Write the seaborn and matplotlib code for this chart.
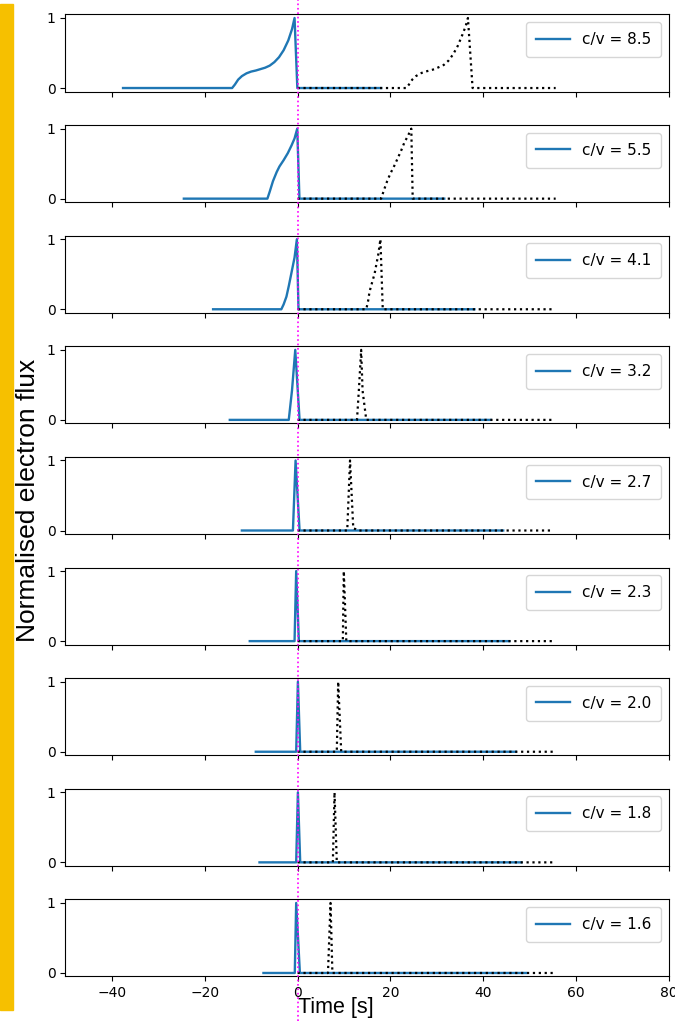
import matplotlib
matplotlib.use("Agg")
import matplotlib.pyplot as plt
import matplotlib.transforms as mtransforms
from matplotlib.lines import Line2D
from matplotlib.patches import Rectangle
import seaborn as sns

# ---- data ----
cv_values = ["8.5", "5.5", "4.1", "3.2", "2.7", "2.3", "2.0", "1.8", "1.6"]

# solid (blue) curves: time [s], normalised flux
blue_t_85 = [-37.6, -14.1, -13.5, -12.8, -12.0, -11.0, -10.0, -9.0, -8.0, -7.0, -6.0,
             -5.0, -4.0, -3.0, -2.0, -1.2, -0.65, -0.05, 18.0]
blue_y_85 = [0, 0, 0.05, 0.12, 0.17, 0.21, 0.235, 0.25, 0.27, 0.29, 0.32,
             0.37, 0.44, 0.54, 0.68, 0.84, 1.0, 0, 0]
blue_t_55 = [-24.5, -6.5, -6.0, -5.3, -4.5, -3.9, -3.0, -2.1, -1.3, -0.65, -0.07, 0.4, 31.6]
blue_y_55 = [0, 0, 0.10, 0.25, 0.38, 0.46, 0.55, 0.65, 0.76, 0.86, 1.0, 0, 0]
blue_t_41 = [-18.2, -3.5, -3.0, -2.4, -1.9, -1.35, -0.65, -0.15, 0.2, 38.1]
blue_y_41 = [0, 0, 0.07, 0.18, 0.33, 0.51, 0.74, 1.0, 0, 0]
blue_t_32 = [-14.6, -1.9, -1.2, -0.5, 0.43, 41.6]
blue_y_32 = [0, 0, 0.42, 1.0, 0, 0]
blue_t_27 = [-12.0, -1.0, -0.43, 0.43, 44.3]
blue_y_27 = [0, 0, 1.0, 0, 0]
blue_t_23 = [-10.3, -0.65, -0.3, 0.28, 45.6]
blue_y_23 = [0, 0, 1.0, 0, 0]
blue_t_20 = [-9.0, -0.3, 0.07, 0.57, 47.0]
blue_y_20 = [0, 0, 1.0, 0, 0]
blue_t_18 = [-8.2, -0.3, 0.07, 0.57, 48.2]
blue_y_18 = [0, 0, 1.0, 0, 0]
blue_t_16 = [-7.35, -0.6, -0.3, 0.5, 49.2]
blue_y_16 = [0, 0, 1.0, 0, 0]

# dotted (black) curves
black_t_85 = [0.0, 23.4, 24.0, 24.7, 25.5, 26.5, 27.5, 28.5, 29.5, 30.5, 31.5,
              32.5, 33.5, 34.5, 35.5, 36.2, 36.7, 37.7, 55.6]
black_y_85 = [0, 0, 0.05, 0.12, 0.17, 0.21, 0.235, 0.25, 0.27, 0.30, 0.33,
              0.39, 0.48, 0.60, 0.76, 0.88, 1.0, 0, 0]
black_t_55 = [0.0, 18.0, 18.6, 19.3, 20.0, 20.7, 21.6, 22.4, 23.0, 23.8, 24.5, 24.8, 55.6]
black_y_55 = [0, 0, 0.12, 0.25, 0.36, 0.45, 0.58, 0.70, 0.80, 0.90, 1.0, 0, 0]
black_t_41 = [0.0, 14.8, 15.2, 15.5, 16.0, 16.6, 17.4, 17.85, 18.35, 54.8]
black_y_41 = [0, 0, 0.12, 0.25, 0.37, 0.51, 0.79, 1.0, 0, 0]
black_t_32 = [0.0, 12.8, 13.2, 13.7, 14.0, 14.8, 54.8]
black_y_32 = [0, 0, 0.42, 1.0, 0.42, 0, 0]
black_t_27 = [0.0, 10.7, 11.3, 12.0, 12.5, 13.0, 54.9]
black_y_27 = [0, 0, 1.0, 0.03, 0.02, 0, 0]
black_t_23 = [0.0, 9.75, 9.96, 10.5, 54.9]
black_y_23 = [0, 0, 1.0, 0, 0]
black_t_20 = [0.0, 8.45, 8.75, 9.4, 55.0]
black_y_20 = [0, 0, 1.0, 0, 0]
black_t_18 = [0.0, 7.6, 7.96, 8.45, 55.2]
black_y_18 = [0, 0, 1.0, 0, 0]
black_t_16 = [0.0, 6.55, 7.1, 7.5, 55.3]
black_y_16 = [0, 0, 1.0, 0, 0]

x_ticks = [-40, -20, 0, 20, 40, 60, 80]
y_ticks = [0, 1]

blue_t = [blue_t_85, blue_t_55, blue_t_41, blue_t_32, blue_t_27, blue_t_23, blue_t_20, blue_t_18, blue_t_16]
blue_y = [blue_y_85, blue_y_55, blue_y_41, blue_y_32, blue_y_27, blue_y_23, blue_y_20, blue_y_18, blue_y_16]
black_t = [black_t_85, black_t_55, black_t_41, black_t_32, black_t_27, black_t_23, black_t_20, black_t_18, black_t_16]
black_y = [black_y_85, black_y_55, black_y_41, black_y_32, black_y_27, black_y_23, black_y_20, black_y_18, black_y_16]

# ---- figure ----
fig, axes = plt.subplots(len(cv_values), 1, figsize=(6.75, 10.21), dpi=100, sharex=True)
fig.subplots_adjust(left=0.097, right=0.991, top=0.9858, bottom=0.0436, hspace=0.436)

for i, ax in enumerate(axes):
    sns.lineplot(x=blue_t[i], y=blue_y[i], ax=ax, color="#1f77b4", linewidth=1.7,
                 estimator=None, sort=False, label=f"c/v = {cv_values[i]}")
    sns.lineplot(x=black_t[i], y=black_y[i], ax=ax, color="black", linewidth=1.6,
                 linestyle=":", estimator=None, sort=False)
    ax.set_xlim(-50, 80)
    ax.set_ylim(-0.05, 1.05)
    ax.set_yticks(y_ticks)
    ax.set_xticks(x_ticks)
    ax.tick_params(labelsize=10)
    ax.legend(loc="upper right", fontsize=11, borderpad=0.65, handlelength=2.2)
    if i < len(cv_values) - 1:
        ax.tick_params(labelbottom=False)

# vertical magenta dotted line at t = 0 through whole figure
trans = mtransforms.blended_transform_factory(axes[0].transData, fig.transFigure)
fig.add_artist(Line2D([0, 0], [0, 1], transform=trans, color="magenta",
                      linestyle=":", linewidth=1.2, clip_on=False, zorder=10))

# yellow strip at left edge
fig.add_artist(Rectangle((0, 0.011), 13 / 675, 0.985, transform=fig.transFigure,
                         color="#F6C000", zorder=0))

fig.text(0.041, 0.51, "Normalised electron flux", rotation=90, ha="center", va="center",
         fontsize=19, family=["Liberation Sans", "DejaVu Sans"])
fig.text(0.498, 0.003, "Time [s]", ha="center", va="bottom",
         fontsize=15.5, family=["Liberation Sans", "DejaVu Sans"])

fig.savefig("out.png", dpi=100)
